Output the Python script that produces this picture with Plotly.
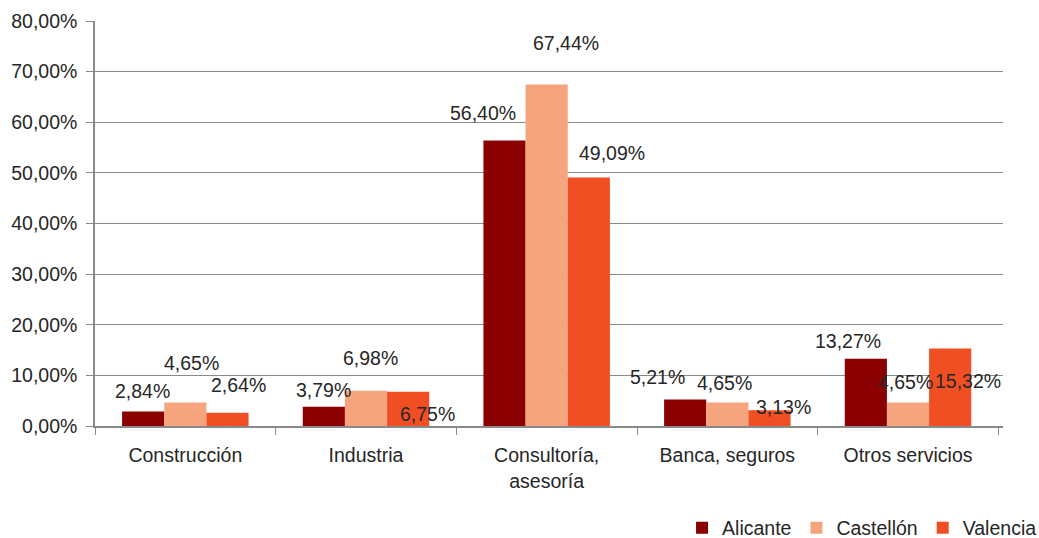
import plotly.graph_objects as go

categories = ["Construcción", "Industria", "Consultoría,<br>asesoría", "Banca, seguros", "Otros servicios"]
alicante = [2.84, 3.79, 56.40, 5.21, 13.27]
castellon = [4.65, 6.98, 67.44, 4.65, 4.65]
valencia = [2.64, 6.75, 49.09, 3.13, 15.32]
series_names = ["Alicante", "Castellón", "Valencia"]
tick_vals = [0, 10, 20, 30, 40, 50, 60, 70, 80]
tick_text = ["0,00%", "10,00%", "20,00%", "30,00%", "40,00%", "50,00%", "60,00%", "70,00%", "80,00%"]

colors = ["#8B0000", "#F5A47E", "#F04F23"]
# label placement (pixel shift from category centre, offset in % units from value)
label_dx = [[-43, 6, 53], [-43, 4, 61], [-64, 19, 65], [-70, -3, 56], [-60, -3, 60]]
label_dy = [[4.06, 7.85, 5.46], [3.4, 6.4, -4.35], [5.4, 8.2, 4.9], [4.5, 3.85, 0.6], [3.5, 3.95, -6.4]]

FONT = "Liberation Sans, Arial, sans-serif"
TXT = "#262626"
FS = 19.5

fig = go.Figure()
all_series = [alicante, castellon, valencia]
for name, vals, col in zip(series_names, all_series, colors):
    fig.add_trace(go.Bar(x=categories, y=vals, name=name, marker=dict(color=col, line=dict(width=0))))

annotations = []
for ci, cat in enumerate(categories):
    for si, vals in enumerate(all_series):
        v = vals[ci]
        annotations.append(dict(
            x=cat, y=v + label_dy[ci][si], xref="x", yref="y",
            xshift=label_dx[ci][si], yanchor="middle", xanchor="center",
            text=f"{v:.2f}".replace(".", ",") + "%", showarrow=False,
            font=dict(family=FONT, size=FS, color=TXT)))

fig.update_layout(
    width=1039, height=538,
    margin=dict(l=95, r=36, t=21, b=112, autoexpand=False),
    paper_bgcolor="white", plot_bgcolor="white",
    barmode="group", bargap=0.30, bargroupgap=0,
    font=dict(family=FONT, size=FS, color=TXT),
    showlegend=True,
    legend=dict(orientation="h", x=1.043, xanchor="right", y=-0.252, yanchor="middle",
                font=dict(family=FONT, size=FS, color=TXT), traceorder="normal",
                itemwidth=30, bgcolor="rgba(0,0,0,0)"),
    annotations=annotations,
)
fig.update_yaxes(range=[0, 80], tickvals=tick_vals, ticktext=tick_text,
                 showgrid=True, gridcolor="#8a8a8a", gridwidth=1,
                 showline=True, linecolor="#8a8a8a", linewidth=1.5,
                 ticks="outside", ticklen=7, tickcolor="#8a8a8a", ticklabelstandoff=5,
                 zeroline=False, tickfont=dict(family=FONT, size=FS, color=TXT))
fig.update_xaxes(showline=True, linecolor="#8a8a8a", linewidth=1.5,
                 ticks="outside", tickson="boundaries", ticklen=7, tickcolor="#8a8a8a",
                 ticklabelstandoff=11,
                 showgrid=False, tickfont=dict(family=FONT, size=FS, color=TXT))

fig.write_html("out.html", config={"displayModeBar": False},
               post_script="document.body.style.margin='0';document.body.style.overflow='hidden';")
